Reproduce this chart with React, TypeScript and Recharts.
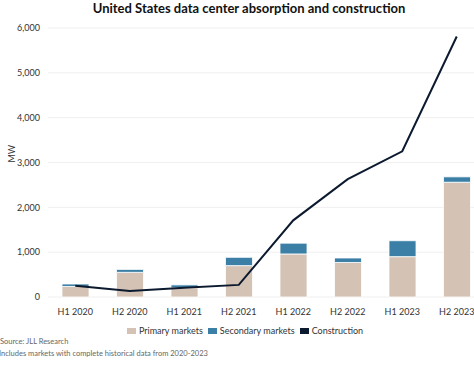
import React from 'react';
import {
  ComposedChart,
  Bar,
  Line,
  XAxis,
  YAxis,
  CartesianGrid,
  Legend
} from 'recharts';

// Half-year periods
const periods = ['H1 2020', 'H2 2020', 'H1 2021', 'H2 2021', 'H1 2022', 'H2 2022', 'H1 2023', 'H2 2023'];
// Absorption, MW
const primaryMarkets = [235, 550, 205, 700, 960, 770, 900, 2560];
const secondaryMarkets = [55, 65, 65, 185, 240, 100, 355, 120];
// Under construction, MW
const construction = [250, 135, 205, 270, 1710, 2630, 3250, 5810];
const yTicks = [0, 1000, 2000, 3000, 4000, 5000, 6000];
const legendOrder = ['Primary markets', 'Secondary markets', 'Construction'];

const chartData = periods.map((period, i) => ({
  period,
  primary: primaryMarkets[i],
  secondary: secondaryMarkets[i],
  construction: construction[i]
}));

const FONT = 'Lato, "Open Sans", sans-serif';

const formatTick = (v: number) => v.toLocaleString('en-US');

// compact legend, swatch + label like the original
const renderLegend = (props: any) => {
  const items = [...(props.payload || [])].sort(
    (a: any, b: any) => legendOrder.indexOf(a.value) - legendOrder.indexOf(b.value)
  );
  return (
    <div style={{ display: 'flex', justifyContent: 'center', alignItems: 'center', gap: 5, fontSize: 9, color: '#333', lineHeight: '11px' }}>
      {items.map((it: any) => (
        <span key={it.value} style={{ display: 'inline-flex', alignItems: 'center' }}>
          <span style={{ display: 'inline-block', width: 9, height: 6, background: it.color, marginRight: 3 }} />
          {it.value}
        </span>
      ))}
    </div>
  );
};

export default function App() {
  return (
    <div style={{
      position: 'absolute',
      left: 0,
      top: 0,
      width: 474,
      height: 366,
      overflow: 'hidden',
      background: '#fff',
      fontFamily: FONT
    }}>
      <div style={{
        position: 'absolute',
        top: 0,
        left: 0,
        width: 498,
        textAlign: 'center',
        fontSize: 13,
        fontWeight: 700,
        color: '#111',
        lineHeight: '17px'
      }}>
        United States data center absorption and construction
      </div>
      <div style={{ position: 'absolute', top: 0, left: 0 }}>
        <ComposedChart
          width={500}
          height={336}
          data={chartData}
          margin={{ top: 28, right: 16, left: 0, bottom: 0 }}
        >
          <CartesianGrid vertical={false} stroke="#efefef" />
          <XAxis
            dataKey="period"
            axisLine={false}
            tickLine={false}
            tick={{ fontSize: 9, fill: '#333', fontFamily: FONT }}
            tickMargin={6}
            height={28}
            interval={0}
          />
          <YAxis
            width={48}
            domain={[0, 6000]}
            ticks={yTicks}
            tickFormatter={formatTick}
            axisLine={false}
            tickLine={false}
            tick={{ fontSize: 9, fill: '#333', fontFamily: FONT }}
            label={{ value: 'MW', angle: -90, position: 'insideLeft', offset: 12, style: { fontSize: 9, fill: '#333', fontFamily: FONT } }}
          />
          <Legend
            verticalAlign="bottom"
            content={renderLegend}
            wrapperStyle={{ fontFamily: FONT, width: 490, left: 0 }}
          />
          <Bar dataKey="primary" name="Primary markets" stackId="a" fill="#d4c2b4" stroke="#fff" strokeWidth={0.8} barSize={27} isAnimationActive={false} />
          <Bar dataKey="secondary" name="Secondary markets" stackId="a" fill="#3b7fa6" stroke="#fff" strokeWidth={0.8} barSize={27} isAnimationActive={false} />
          <Line dataKey="construction" name="Construction" type="linear" stroke="#0b1a2e" strokeWidth={2} dot={false} legendType="rect" isAnimationActive={false} />
        </ComposedChart>
      </div>
      <div style={{
        position: 'absolute',
        left: 0,
        top: 336,
        fontSize: 7.5,
        color: '#666',
        lineHeight: '12px'
      }}>
        <div style={{ color: '#666' }}>Source: JLL Research</div>
        <div style={{ color: '#666', marginLeft: -1 }}>Includes markets with complete historical data from 2020-2023</div>
      </div>
    </div>
  );
}
